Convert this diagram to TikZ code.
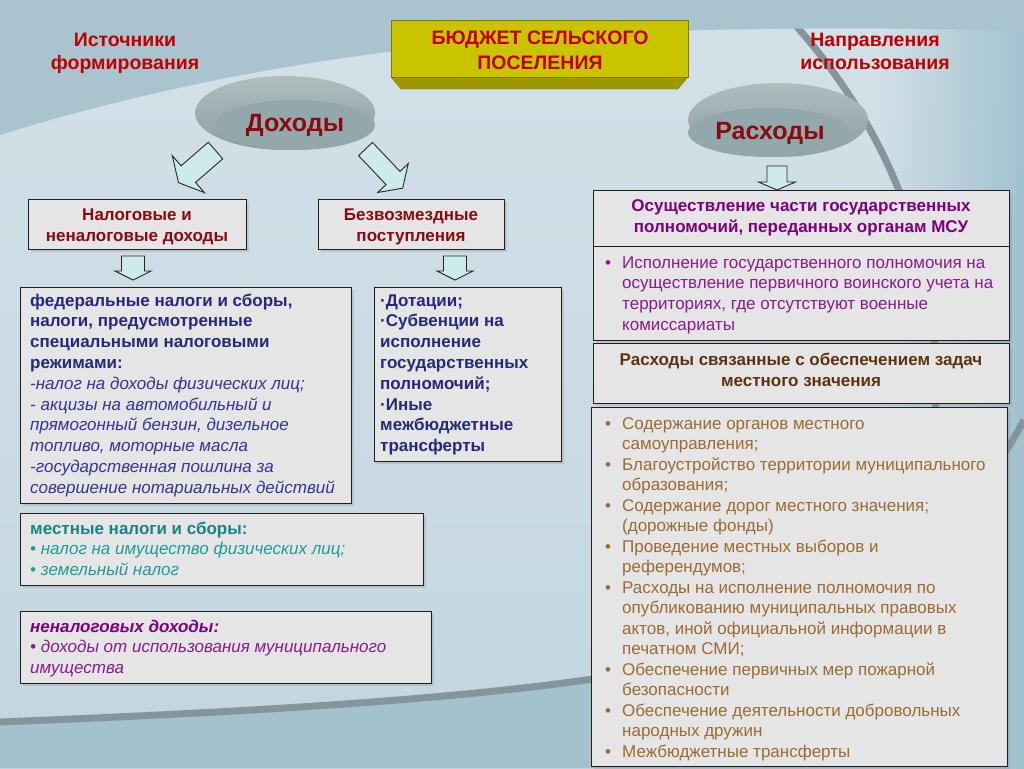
\documentclass[tikz,border=0pt]{standalone}
\usepackage{fontspec}
\setmainfont{Liberation Sans}
\usetikzlibrary{shapes.geometric,shadows,fadings}
\definecolor{bgtop}{HTML}{A9C3CF}
\definecolor{bgA}{HTML}{D3E1E8}
\definecolor{bgB}{HTML}{C3D6DF}
\definecolor{bgbot}{HTML}{A4C1CE}
\definecolor{bgright}{HTML}{A2C2D0}
\definecolor{arcgrey}{HTML}{84959B}
\definecolor{boxfill}{HTML}{E5E5E5}
\definecolor{boxdraw}{HTML}{1E1E1E}
\definecolor{arrowfill}{HTML}{CDEBEB}
\definecolor{titlered}{HTML}{C00000}
\definecolor{darkred}{HTML}{8B0A12}
\definecolor{navy}{HTML}{26287E}
\definecolor{navyit}{HTML}{33339A}
\definecolor{tealb}{HTML}{178585}
\definecolor{teali}{HTML}{1E9B9B}
\definecolor{purp}{HTML}{7F007F}
\definecolor{purpit}{HTML}{8A1A8A}
\definecolor{brownb}{HTML}{5C3310}
\definecolor{tan}{HTML}{9A6B32}
\definecolor{yel}{HTML}{C9C300}
\definecolor{yeldark}{HTML}{9E9800}
\definecolor{diskback}{HTML}{AFBDBF}
\definecolor{diskedge}{HTML}{8D9EA1}
\definecolor{diskfront}{HTML}{93A8AB}
\tikzfading[name=fadeleft, left color=transparent!100, right color=transparent!0]
\newcommand{\barr}[7]{%
  \draw[blk, shift={(#1,#2)}, rotate=#3] (0,-#6) -- (#4,-#6) -- (#4,-#7) -- (#4+#5,0) -- (#4,#7) -- (#4,#6) -- (0,#6) -- cycle;}
\newcommand{\bul}{\makebox[17pt][l]{•}}
\newcommand{\bitem}[1]{\par\hangindent=17pt\hangafter=1\noindent\bul#1}
\begin{document}
\begin{tikzpicture}[x=1pt,y=-1pt,
  blk/.style={draw=black!85, fill=arrowfill, line width=0.9pt, line join=miter},
  box/.style={draw=boxdraw, line width=1.3pt, fill=boxfill, anchor=north west, inner sep=0pt,
     drop shadow={shadow xshift=2pt, shadow yshift=-2pt, opacity=0.25}},
  txt/.style={inner sep=0pt, anchor=base west},
  ctxt/.style={inner sep=0pt, anchor=base},
  head/.style={inner sep=0pt, anchor=base, font=\fontsize{19.5}{23}\selectfont\bfseries, text=titlered, align=center}]
\useasboundingbox (0,0) rectangle (1024,768);
% background
\shade[top color=bgA, bottom color=bgB] (0,0) rectangle (1024,768);
\fill[bgright, path fading=fadeleft] (880,0) rectangle (1024,768);
\draw[arcgrey, line width=7pt] (772,0) .. controls (880,110) and (945,250) .. (935,420);
\fill[bgtop] (0,0) -- (0,135) .. controls (150,88) and (350,46) .. (600,33) .. controls (800,26) and (950,28) .. (1024,32) -- (1024,0) -- cycle;
\fill[bgbot] (0,722) .. controls (250,712) and (450,700) .. (600,678) .. controls (800,640) and (950,560) .. (1024,420) -- (1024,768) -- (0,768) -- cycle;
\draw[arcgrey, line width=7pt] (0,722) .. controls (250,712) and (450,700) .. (600,678) .. controls (800,640) and (950,560) .. (1024,420);
% headings
\node[head] (src1) at (125,46) {Источники};
\node[head] (src2) at (125,69) {формирования};
\node[head] (dir1) at (875,46) {Направления};
\node[head] (dir2) at (875,69) {использования};
% budget box
\fill[yeldark, draw=yeldark!80!black, line width=0.4pt] (391,77) -- (688,77) -- (678,89) -- (401,89) -- cycle;
\node[draw=yeldark!80!black, line width=0.4pt, fill=yel, anchor=north west, minimum width=297pt, minimum height=57pt, inner sep=0pt] (budget) at (391,20) {};
\node[ctxt, font=\fontsize{19.5}{24}\selectfont\bfseries, text=titlered] (bt1) at (540,45) {БЮДЖЕТ СЕЛЬСКОГО};
\node[ctxt, font=\fontsize{19.5}{24}\selectfont\bfseries, text=titlered] (bt2) at (540,69) {ПОСЕЛЕНИЯ};
% disks
\shade[top color=diskback, bottom color=diskedge] (285,113) ellipse [x radius=90, y radius=37];
\fill[diskfront] (295,125) ellipse [x radius=80, y radius=25];
\node[ctxt, font=\fontsize{25}{30}\selectfont\bfseries, text=darkred] (dohody) at (295,131) {Доходы};
\shade[top color=diskback, bottom color=diskedge] (778,120) ellipse [x radius=90, y radius=37];
\fill[diskfront] (769,132.5) ellipse [x radius=81, y radius=24.5];
\node[ctxt, font=\fontsize{25}{30}\selectfont\bfseries, text=darkred] (rashody) at (770,139) {Расходы};
% arrows
\barr{215.5}{150.5}{-139}{36}{13}{11}{24.5}
\barr{365.5}{149}{-46.5}{40}{14}{9.6}{21}
\barr{133}{256}{-90}{15}{9}{11.5}{18}
\barr{455}{256}{-90}{15}{9}{11.5}{18}
\barr{777}{166}{-90}{16}{8}{10}{18.5}
% left boxes
\node[box, minimum width=218pt, minimum height=50pt] (nal) at (28,199) {};
\node[box, minimum width=186pt, minimum height=50pt] (bezv) at (318,199) {};
\node[box, minimum width=331pt, minimum height=216pt] (fed) at (20,287) {};
\node[box, minimum width=187pt, minimum height=174pt] (dot) at (374,287) {};
\node[box, minimum width=403pt, minimum height=72pt] (mest) at (20,513) {};
\node[box, minimum width=411pt, minimum height=72pt] (nenal) at (20,611) {};
% right boxes
\node[box, minimum width=416pt, minimum height=56pt] (osush) at (593,190) {};
\node[box, minimum width=416pt, minimum height=94pt] (ispoln) at (593,246) {};
\node[box, minimum width=416pt, minimum height=60pt] (rassv) at (593,343) {};
\node[box, minimum width=416pt, minimum height=359pt] (soder) at (591,407) {};
% texts
\node[ctxt, text=darkred] (tnal) at (137,220) {\parbox[t]{215pt}{\centering\fontsize{17}{21}\selectfont\bfseries Налоговые и\\неналоговые доходы}};
\node[ctxt, text=darkred] (tbezv) at (411,220) {\parbox[t]{184pt}{\centering\fontsize{17}{21}\selectfont\bfseries Безвозмездные\\поступления}};
\node[txt] (tfed) at (30,306) {\parbox[t]{320pt}{\raggedright\fontsize{17}{20.8}\selectfont\leavevmode
  {\bfseries\color{navy}федеральные налоги и сборы,\\налоги, предусмотренные\\специальными налоговыми\\режимами:}\\
  {\itshape\color{navyit}-налог на доходы физических лиц;\\- акцизы на автомобильный и\\прямогонный бензин, дизельное\\топливо, моторные масла\\-государственная пошлина за\\совершение нотариальных действий}}};
\node[txt, text=navy] (tdot) at (380,306) {\parbox[t]{180pt}{\raggedright\fontsize{17}{20.8}\selectfont\bfseries
  ·Дотации;\\·Субвенции на\\исполнение\\государственных\\полномочий;\\·Иные\\межбюджетные\\трансферты}};
\node[txt] (tmest) at (30,534) {\parbox[t]{390pt}{\raggedright\fontsize{17}{20.8}\selectfont\leavevmode
  {\bfseries\color{tealb}местные налоги и сборы:}\\
  {\itshape\color{teali}• налог на имущество физических лиц;\\• земельный налог}}};
\node[txt] (tnenal) at (30,632) {\parbox[t]{400pt}{\raggedright\fontsize{17}{20.8}\selectfont\leavevmode
  {\bfseries\itshape\color{purp}неналоговых доходы:}\\
  {\itshape\color{purpit}• доходы от использования муниципального\\имущества}}};
\node[ctxt, text=purp] (tosush) at (801,211) {\parbox[t]{414pt}{\centering\fontsize{17}{21}\selectfont\bfseries
  Осуществление части государственных\\полномочий, переданных органам МСУ}};
\node[txt, text=purpit] (tispoln) at (605,268) {\parbox[t]{400pt}{\raggedright\fontsize{17}{20.7}\selectfont\parskip=0pt
  \bitem{Исполнение государственного полномочия на\newline осуществление первичного воинского учета на\newline территориях, где отсутствуют военные\newline комиссариаты}}};
\node[ctxt, text=brownb] (trassv) at (801,365) {\parbox[t]{414pt}{\centering\fontsize{17}{21}\selectfont\bfseries
  Расходы связанные с обеспечением задач\\местного значения}};
\node[txt, text=tan] (tsoder) at (605,429) {\parbox[t]{400pt}{\raggedright\fontsize{17}{20.5}\selectfont\parskip=0pt
  \bitem{Содержание органов местного\newline самоуправления;}
  \bitem{Благоустройство территории муниципального\newline образования;}
  \bitem{Содержание дорог местного значения;\newline (дорожные фонды)}
  \bitem{Проведение местных выборов и\newline референдумов;}
  \bitem{Расходы на исполнение полномочия по\newline опубликованию муниципальных правовых\newline актов, иной официальной информации в\newline печатном СМИ;}
  \bitem{Обеспечение первичных мер пожарной\newline безопасности}
  \bitem{Обеспечение деятельности добровольных\newline народных дружин}
  \bitem{Межбюджетные трансферты}}};
\end{tikzpicture}
\end{document}
